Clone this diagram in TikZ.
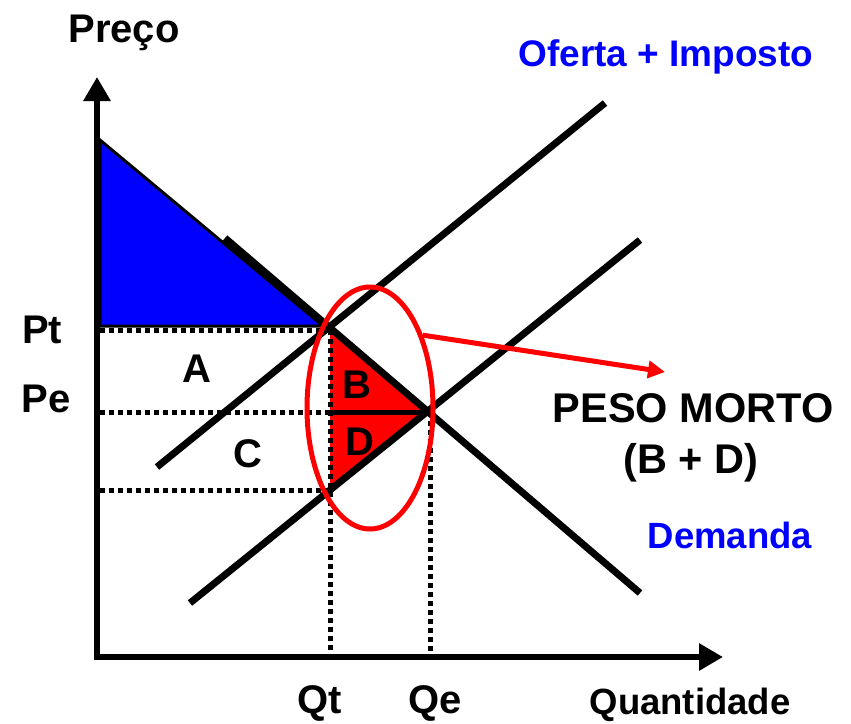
\documentclass[tikz,border=0pt]{standalone}
\usepackage{fontspec}
\setmainfont{Liberation Sans}
\usetikzlibrary{arrows.meta,shapes.geometric}
\definecolor{pblue}{RGB}{0,0,255}
\definecolor{pred}{RGB}{255,0,0}
\begin{document}
\begin{tikzpicture}[x=1pt,y=-1pt,
  lbl/.style={font=\fontsize{40}{48}\selectfont\bfseries, anchor=base, inner sep=0pt},
  smalllbl/.style={font=\fontsize{36.5}{44}\selectfont\bfseries, anchor=base, inner sep=0pt},
  curve/.style={line width=7pt},
  guide/.style={line width=5pt, dash pattern=on 5pt off 4pt},
  axisline/.style={line width=6pt, line join=miter},
]
\useasboundingbox (0,0) rectangle (851,723);
% key points
\coordinate (O) at (97,657);
\coordinate (Ytip) at (97,77);
\coordinate (Xtip) at (723,657);
\coordinate (Top) at (100,140);
\coordinate (PtL) at (100,330);
\coordinate (PeL) at (100,412);
\coordinate (PlL) at (100,490);
\coordinate (Et) at (330,328);
\coordinate (Et2) at (330,330);
\coordinate (E) at (430,412);
\coordinate (Ep) at (330,412);
\coordinate (El) at (330,490);
\coordinate (QtB) at (330,655);
\coordinate (QeB) at (430,655);
\coordinate (D1) at (225,238);
\coordinate (D2) at (640,593);
\coordinate (S1) at (190,603);
\coordinate (S2) at (640,240);
\coordinate (T1) at (157,467);
\coordinate (T2) at (605,103);
% consumer surplus (blue)
\filldraw[fill=pblue, draw=black, line width=3pt, line join=miter] (Top) -- (100,326) -- (323,326) -- cycle;
% deadweight loss triangles
\fill[pred] (Et) -- (E) -- (Ep) -- cycle;
\fill[pred] (Ep) -- (E) -- (El) -- cycle;
% guide lines
\draw[guide] (PtL) -- (Et2);
\draw[guide] (PeL) -- (Ep);
\draw[guide] (PlL) -- (El);
\draw[guide] (Et2) -- (QtB);
\draw[guide] (E) -- (QeB);
\draw[line width=5pt] (Ep) -- (E);
% curves
\draw[curve] (D1) -- (D2);
\draw[curve] (S1) -- (S2);
\draw[curve] (T1) -- (T2);
% axes
\draw[axisline, {Triangle[length=24pt,width=26pt]}-{Triangle[length=24pt,width=26pt]}] (Ytip) -- (O) -- (Xtip);
% ellipse and arrow
\node[ellipse, draw=pred, line width=5pt, minimum width=126pt, minimum height=242pt, inner sep=0pt] (pm) at (370,408) {};
\coordinate (Atip) at (665,372);
\draw[pred, line width=5pt, -{Triangle[length=17pt,width=17pt]}] (pm.54) -- (Atip);
% labels
\node[lbl] (preco) at (124,42) {Preço};
\node[smalllbl, text=pblue, font=\fontsize{37}{44}\selectfont\bfseries] (oferta) at (666,66) {Oferta + Imposto};
\node[lbl] (pt) at (42,343) {Pt};
\node[lbl] (pe) at (46,412) {Pe};
\node[lbl] (la) at (197,382) {A};
\node[lbl] (lc) at (248,467) {C};
\node[lbl] (lb) at (357,398) {B};
\node[lbl] (ld) at (360,455) {D};
\node[lbl, font=\fontsize{41.5}{48}\selectfont\bfseries] (peso) at (693,422) {PESO MORTO};
\node[lbl, font=\fontsize{41.5}{48}\selectfont\bfseries] (bd) at (691,473) {(B + D)};
\node[smalllbl, text=pblue] (dem) at (730,548) {Demanda};
\node[lbl] (qt) at (320,713) {Qt};
\node[lbl] (qe) at (435,713) {Qe};
\node[smalllbl] (quant) at (690,714) {Quantidade};
\end{tikzpicture}
\end{document}
